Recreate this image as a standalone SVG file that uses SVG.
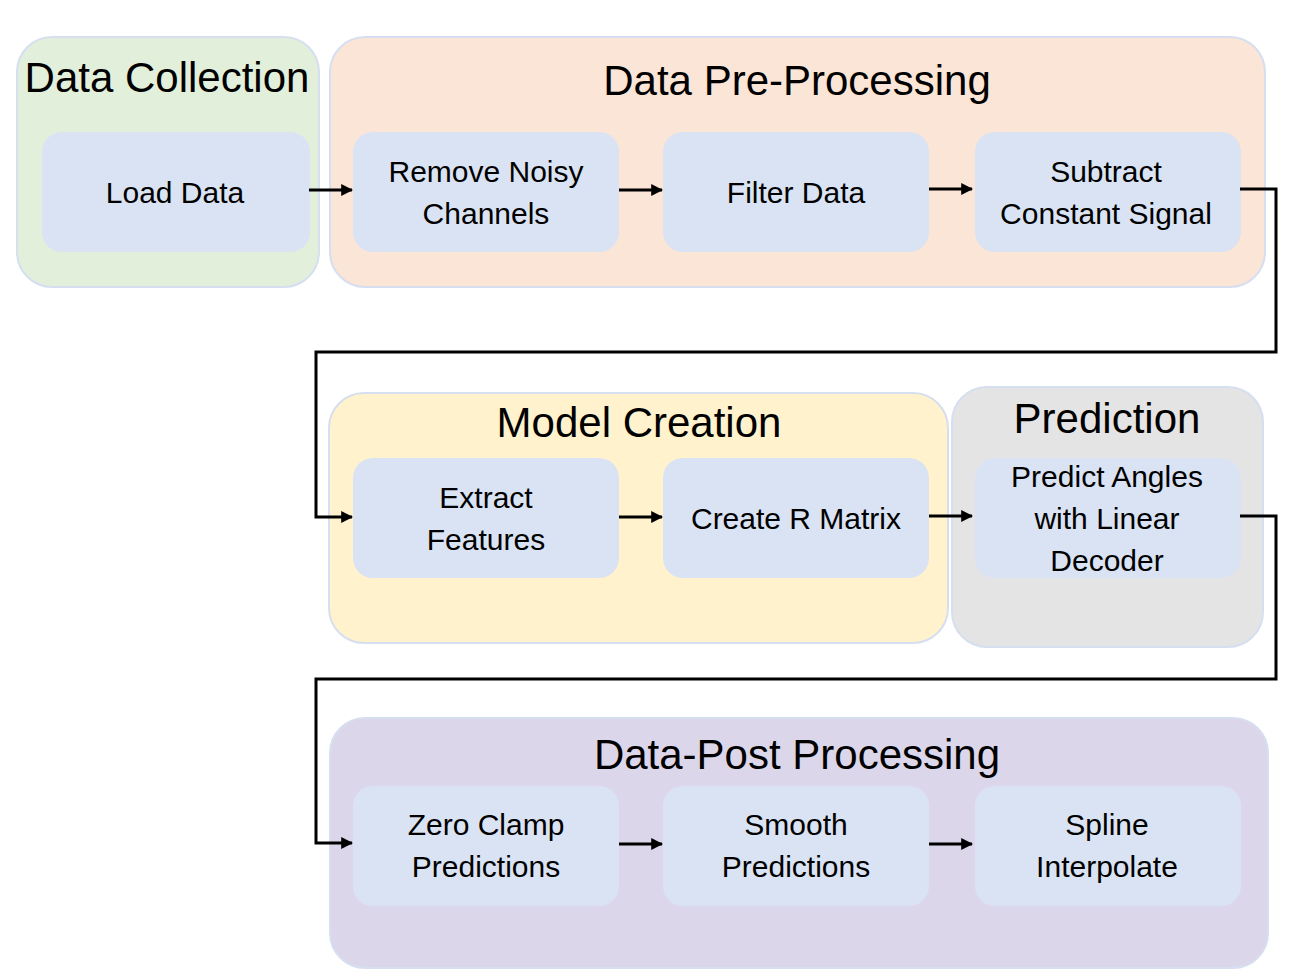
<svg xmlns="http://www.w3.org/2000/svg" width="1312" height="980" viewBox="0 0 1312 980">
<style>
.grp{stroke:#d6dff0;stroke-width:2}
.node{fill:#dae3f3;stroke:none}
.title{font-family:"Liberation Sans",Arial,sans-serif;font-size:42px;fill:#000;text-anchor:middle}
.lbl{font-family:"Liberation Sans",Arial,sans-serif;font-size:30px;fill:#000;text-anchor:middle}
.conn{fill:none;stroke:#000;stroke-width:3;marker-end:url(#ah)}
</style>
<defs>
<marker id="ah" viewBox="0 0 10 10" refX="9" refY="5" markerWidth="4" markerHeight="4" orient="auto" markerUnits="strokeWidth">
<path d="M0,0 L10,5 L0,10 z" fill="#000"/>
</marker>
</defs>
<rect width="1312" height="980" fill="#fff"/>

<g id="group-data-collection">
<rect class="grp" x="17" y="37" width="302" height="250" rx="35" fill="#e2efda"/>
<text class="title" x="167" y="92">Data Collection</text>
</g>
<g id="group-pre-processing">
<rect class="grp" x="330" y="37" width="935" height="250" rx="35" fill="#fbe5d6"/>
<text class="title" x="797" y="95">Data Pre-Processing</text>
</g>
<g id="group-model-creation">
<rect class="grp" x="329" y="393" width="619" height="250" rx="35" fill="#fff2cc"/>
<text class="title" x="639" y="437">Model Creation</text>
</g>
<g id="group-prediction">
<rect class="grp" x="952" y="387" width="311" height="260" rx="35" fill="#e4e4e4"/>
<text class="title" x="1107" y="433">Prediction</text>
</g>
<g id="group-post-processing">
<rect class="grp" x="330" y="718" width="938" height="250" rx="35" fill="#dcd6eb"/>
<text class="title" x="797" y="769">Data-Post Processing</text>
</g>

<g id="node-load-data">
<rect class="node" x="42" y="132" width="268" height="120" rx="20"/>
<text class="lbl" x="175" y="203">Load Data</text>
</g>
<g id="node-remove-noisy">
<rect class="node" x="353" y="132" width="266" height="120" rx="20"/>
<text class="lbl" x="486" y="182">Remove Noisy</text>
<text class="lbl" x="486" y="224">Channels</text>
</g>
<g id="node-filter-data">
<rect class="node" x="663" y="132" width="266" height="120" rx="20"/>
<text class="lbl" x="796" y="203">Filter Data</text>
</g>
<g id="node-subtract">
<rect class="node" x="975" y="132" width="266" height="120" rx="20"/>
<text class="lbl" x="1106" y="182">Subtract</text>
<text class="lbl" x="1106" y="224">Constant Signal</text>
</g>
<g id="node-extract-features">
<rect class="node" x="353" y="458" width="266" height="120" rx="20"/>
<text class="lbl" x="486" y="508">Extract</text>
<text class="lbl" x="486" y="550">Features</text>
</g>
<g id="node-create-r">
<rect class="node" x="663" y="458" width="266" height="120" rx="20"/>
<text class="lbl" x="796" y="529">Create R Matrix</text>
</g>
<g id="node-predict">
<rect class="node" x="975" y="458" width="266" height="120" rx="20"/>
<text class="lbl" x="1107" y="487">Predict Angles</text>
<text class="lbl" x="1107" y="529">with Linear</text>
<text class="lbl" x="1107" y="571">Decoder</text>
</g>
<g id="node-zero-clamp">
<rect class="node" x="353" y="786" width="266" height="120" rx="20"/>
<text class="lbl" x="486" y="835">Zero Clamp</text>
<text class="lbl" x="486" y="877">Predictions</text>
</g>
<g id="node-smooth">
<rect class="node" x="663" y="786" width="266" height="120" rx="20"/>
<text class="lbl" x="796" y="835">Smooth</text>
<text class="lbl" x="796" y="877">Predictions</text>
</g>
<g id="node-spline">
<rect class="node" x="975" y="786" width="266" height="120" rx="20"/>
<text class="lbl" x="1107" y="835">Spline</text>
<text class="lbl" x="1107" y="877">Interpolate</text>
</g>

<g id="connectors">
<path class="conn" d="M309,190 H352"/>
<path class="conn" d="M619,190 H662"/>
<path class="conn" d="M929,189 H972"/>
<path class="conn" d="M1240,189 H1276 V352 H316 V517 H352"/>
<path class="conn" d="M619,517 H662"/>
<path class="conn" d="M929,516 H972"/>
<path class="conn" d="M1240,516 H1276 V679 H316 V843 H352"/>
<path class="conn" d="M619,844 H662"/>
<path class="conn" d="M929,844 H972"/>
</g>
</svg>
